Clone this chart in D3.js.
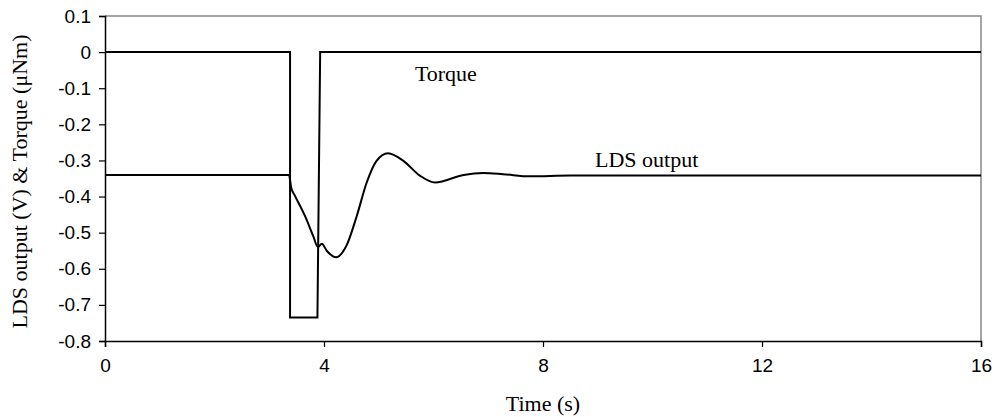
<!DOCTYPE html>
<html>
<head>
<meta charset="utf-8">
<script src="https://cdn.jsdelivr.net/npm/d3@7"></script>
<style>
  body { margin: 0; background: #fff; }
</style>
</head>
<body>
<div id="chart"></div>
<script>
// torque pulse (uNm) vs time (s)
const torqueTime = [0, 3.38, 3.38, 3.88, 3.93, 16];
const torqueValue = [0, 0, -0.735, -0.735, 0, 0];

// LDS output (V) vs time (s)
const ldsTime = [0, 3.36, 3.40, 3.47, 3.65, 3.80, 3.89, 3.96, 4.05, 4.22, 4.41, 4.60, 4.78, 4.96, 5.17, 5.45, 5.75, 6.03, 6.55, 6.91, 7.27, 7.76, 8.5, 16];
const ldsValue = [-0.34, -0.34, -0.375, -0.398, -0.453, -0.508, -0.54, -0.531, -0.55, -0.568, -0.536, -0.453, -0.361, -0.301, -0.280, -0.301, -0.342, -0.361, -0.340, -0.335, -0.338, -0.344, -0.342, -0.342];

const xTicks = [0, 4, 8, 12, 16];
const yTicks = [0.1, 0, -0.1, -0.2, -0.3, -0.4, -0.5, -0.6, -0.7, -0.8];

const width = 994, height = 417;
const margin = {top: 16, right: 13, bottom: 76, left: 105};
const w = width - margin.left - margin.right;
const h = height - margin.top - margin.bottom;
const serif = '"Liberation Serif", "Times New Roman", serif';
const sans = '"Liberation Sans", Arial, sans-serif';

const svg = d3.select('#chart').append('svg')
    .attr('width', width)
    .attr('height', height);

const g = svg.append('g')
    .attr('transform', `translate(${margin.left},${margin.top})`);

const x = d3.scaleLinear().domain([0, 16]).range([0, w]);
const y = d3.scaleLinear().domain([-0.8, 0.1]).range([h, 0]);

// frame (top + right in grey)
g.append('path')
    .attr('d', `M0,0H${w}V${h}`)
    .attr('fill', 'none')
    .attr('stroke', '#888')
    .attr('stroke-width', 1.5);

// axes
const xAxis = g.append('g')
    .attr('transform', `translate(0,${h})`)
    .call(d3.axisBottom(x).tickValues(xTicks).tickSize(6).tickPadding(12).tickFormat(d => String(d)));
const yAxis = g.append('g')
    .call(d3.axisLeft(y).tickValues(yTicks).tickSize(6).tickPadding(8).tickFormat(d => d === 0 ? '0' : d.toFixed(1)));
[xAxis, yAxis].forEach(a => {
    a.attr('font-family', sans).attr('font-size', 19);
    a.select('.domain').attr('stroke', '#000').attr('stroke-width', 1.5);
    a.selectAll('.tick line').attr('stroke', '#000').attr('stroke-width', 1.2);
    a.selectAll('.tick text').attr('fill', '#000');
});

// lines
const torqueData = torqueTime.map((t, i) => [t, torqueValue[i]]);
const ldsData = ldsTime.map((t, i) => [t, ldsValue[i]]);

g.append('path')
    .datum(torqueData)
    .attr('fill', 'none')
    .attr('stroke', '#000')
    .attr('stroke-width', 2)
    .attr('d', d3.line().x(d => x(d[0])).y(d => y(d[1])));

g.append('path')
    .datum(ldsData)
    .attr('fill', 'none')
    .attr('stroke', '#000')
    .attr('stroke-width', 2)
    .attr('stroke-linejoin', 'round')
    .attr('d', d3.line().curve(d3.curveMonotoneX).x(d => x(d[0])).y(d => y(d[1])));

// annotations
const label = sel => sel.attr('font-family', serif).attr('font-size', 22).attr('fill', '#000');
g.append('text').call(label)
    .attr('x', x(5.66)).attr('y', y(-0.08))
    .text('Torque');
g.append('text').call(label)
    .attr('x', x(8.95)).attr('y', y(-0.318))
    .text('LDS output');

// axis titles
svg.append('text').call(label)
    .attr('text-anchor', 'middle')
    .attr('x', margin.left + x(8)).attr('y', 411)
    .text('Time (s)');
svg.append('text').call(label)
    .attr('text-anchor', 'middle')
    .attr('transform', `translate(27,${(38 + 325) / 2}) rotate(-90)`)
    .text('LDS output (V) & Torque (μNm)');
</script>
</body>
</html>
